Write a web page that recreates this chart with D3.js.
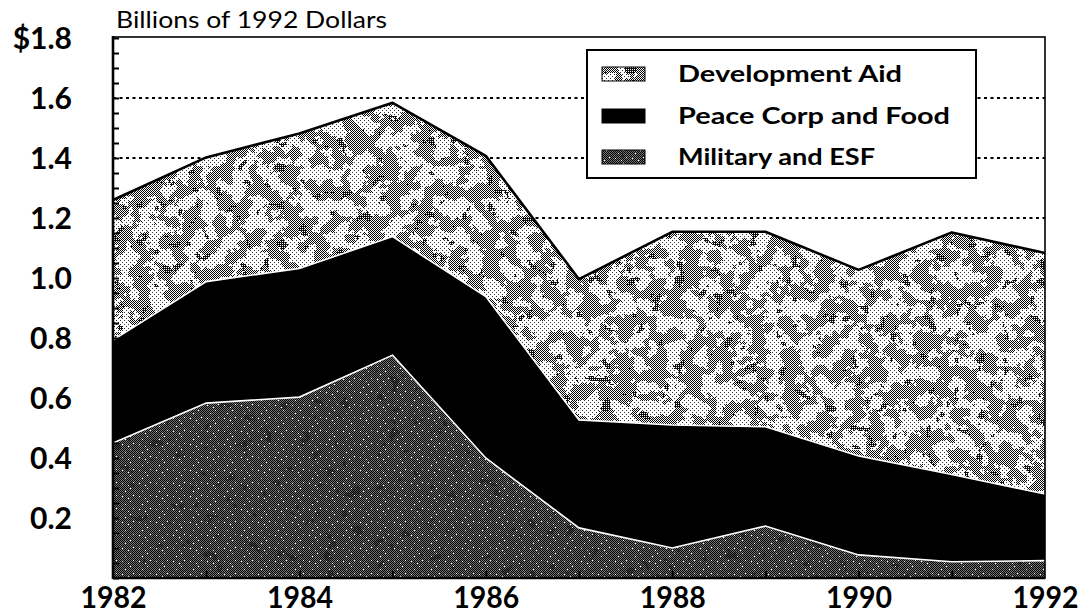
<!DOCTYPE html>
<html>
<head>
<meta charset="utf-8">
<script src="https://cdn.jsdelivr.net/npm/d3@7"></script>
<style>
  body { margin: 0; background: #fff; }
  svg { display: block; font-family: Lato, "Open Sans", sans-serif; }
</style>
</head>
<body>
<svg width="1091" height="615"></svg>
<script>
// values in billions of 1992 dollars
const years = [1982, 1983, 1984, 1985, 1986, 1987, 1988, 1989, 1990, 1991, 1992];
const militaryESF = [0.450, 0.583, 0.603, 0.743, 0.400, 0.167, 0.100, 0.173, 0.077, 0.054, 0.058];
const peaceCorpFood = [0.343, 0.405, 0.429, 0.395, 0.538, 0.360, 0.410, 0.331, 0.330, 0.291, 0.222];
const developmentAid = [0.467, 0.414, 0.450, 0.446, 0.469, 0.469, 0.644, 0.650, 0.620, 0.807, 0.803];

const seriesKeys = ["military", "peace", "dev"];
const legendKeys = ["dev", "peace", "military"];
const legendLabels = ["Development Aid", "Peace Corp and Food", "Military and ESF"];
const yLabelTicks = [0.2, 0.4, 0.6, 0.8, 1.0, 1.2, 1.4, 1.6, 1.8];
const gridTicks = [0.2, 0.4, 0.6, 0.8, 1.0, 1.2, 1.4, 1.6];
const xLabelTicks = [1982, 1984, 1986, 1988, 1990, 1992];

const table = years.map((yr, i) => ({
  year: yr,
  military: militaryESF[i],
  peace: peaceCorpFood[i],
  dev: developmentAid[i]
}));

const svg = d3.select("svg");
const W = 1091, H = 615;
const plotL = 113, plotR = 1045, plotT = 38, plotB = 578;

const x = d3.scaleLinear().domain([1982, 1992]).range([plotL, plotR]);
const y = d3.scaleLinear().domain([0, 1.8]).range([plotB, plotT]);

// ---- textures (stipple look of the scan) ----
const defs = svg.append("defs");

function noiseMask(id, freq, seed, table) {
  const f = defs.append("filter").attr("id", id + "F")
    .attr("x", 0).attr("y", 0).attr("width", 1).attr("height", 1)
    .attr("color-interpolation-filters", "sRGB");
  f.append("feTurbulence").attr("type", "fractalNoise")
    .attr("baseFrequency", freq).attr("numOctaves", 3).attr("seed", seed);
  f.append("feColorMatrix").attr("type", "matrix")
    .attr("values", "1 0 0 0 0  1 0 0 0 0  1 0 0 0 0  0 0 0 0 1");
  const ct = f.append("feComponentTransfer");
  ["feFuncR", "feFuncG", "feFuncB"].forEach(fn =>
    ct.append(fn).attr("type", "discrete").attr("tableValues", table));
  defs.append("mask").attr("id", id)
    .attr("maskUnits", "userSpaceOnUse")
    .attr("x", 0).attr("y", 0).attr("width", W).attr("height", H)
    .append("rect").attr("width", W).attr("height", H)
    .attr("fill", "#fff").attr("filter", `url(#${id}F)`);
}
noiseMask("maskA", 0.06, 7, "0 0 0 0 0 1 1 1 1 1");
noiseMask("maskB", 0.08, 21, "0 0 0 0 0 0 0 1 1 1");

function pixelPattern(id, w, h, bg, dots, color) {
  const p = defs.append("pattern").attr("id", id)
    .attr("patternUnits", "userSpaceOnUse")
    .attr("width", w).attr("height", h);
  if (bg) p.append("rect").attr("width", w).attr("height", h).attr("fill", bg);
  dots.forEach(d => p.append("rect")
    .attr("x", d[0]).attr("y", d[1]).attr("width", 1).attr("height", 1)
    .attr("fill", color));
}
// light checker for development aid
pixelPattern("checker", 2, 2, null, [[0, 0], [1, 1]], "#000");
// denser dots for the darker clumps
pixelPattern("dense", 2, 2, null, [[0, 0], [1, 1], [1, 0]], "#111");
// sparse dots across the whole light area
pixelPattern("sparse", 4, 4, "#fff", [[0, 0], [2, 2]], "#333");
// dark fine stipple for military
pixelPattern("darkBase", 2, 2, "#747474", [[0, 0], [1, 1]], "#000");
pixelPattern("specks", 17, 13, null, [[3, 2], [11, 7], [6, 10], [14, 1], [9, 4]], "#fff");

// ---- gridlines behind the areas ----
svg.append("g")
  .selectAll("line")
  .data(gridTicks)
  .join("line")
  .attr("x1", plotL).attr("x2", plotR)
  .attr("y1", d => y(d)).attr("y2", d => y(d))
  .attr("stroke", "#000")
  .attr("stroke-width", 2)
  .attr("stroke-dasharray", "3,3.5");

// ---- stacked areas ----
const stack = d3.stack().keys(seriesKeys);
const layers = stack(table);
const byKey = {};
layers.forEach(l => byKey[l.key] = l);

const area = d3.area()
  .x(d => x(d.data.year))
  .y0(d => y(d[0]))
  .y1(d => y(d[1]));
const topLine = d3.line()
  .x(d => x(d.data.year))
  .y(d => y(d[1]));

function fillTextured(g, key, shape) {
  const add = () => g.append(shape.tag).attr(shape.attr, shape.val);
  if (key === "peace") {
    add().attr("fill", "#000");
  } else if (key === "dev") {
    add().attr("fill", "url(#sparse)");
    add().attr("fill", "url(#checker)").attr("mask", "url(#maskA)");
    add().attr("fill", "url(#dense)").attr("mask", "url(#maskB)");
  } else {
    add().attr("fill", "url(#darkBase)");
    add().attr("fill", "#000").attr("opacity", 0.35).attr("mask", "url(#maskB)");
    add().attr("fill", "url(#specks)");
  }
}

const areaG = svg.append("g");
seriesKeys.forEach(k => {
  fillTextured(areaG, k, { tag: "path", attr: "d", val: area(byKey[k]) });
});

// white seams between layers, black outline on top
svg.append("path")
  .attr("d", topLine(byKey.military))
  .attr("fill", "none").attr("stroke", "#fff").attr("stroke-width", 1.6);
svg.append("path")
  .attr("d", topLine(byKey.peace))
  .attr("fill", "none").attr("stroke", "#fff").attr("stroke-width", 1.6);
svg.append("path")
  .attr("d", topLine(byKey.dev))
  .attr("fill", "none").attr("stroke", "#000").attr("stroke-width", 2.6)
  .attr("stroke-linejoin", "round");

// ---- frame ----
svg.append("rect")
  .attr("x", plotL).attr("y", plotT - 1)
  .attr("width", plotR - plotL).attr("height", plotB - plotT + 1)
  .attr("fill", "none").attr("stroke", "#000").attr("stroke-width", 1.6);
svg.append("line")
  .attr("x1", plotL).attr("x2", plotL).attr("y1", plotT - 2).attr("y2", plotB + 1)
  .attr("stroke", "#000").attr("stroke-width", 2.6);
svg.append("line")
  .attr("x1", plotL).attr("x2", plotR).attr("y1", plotB).attr("y2", plotB)
  .attr("stroke", "#000").attr("stroke-width", 2.6);

// inner ticks on the value axis
svg.append("g")
  .attr("transform", `translate(${plotL},0)`)
  .call(d3.axisRight(y).ticks(36).tickSize(6).tickFormat(""))
  .call(g => g.select(".domain").remove())
  .call(g => g.selectAll(".tick line").attr("stroke-width", 2));

// inner ticks on the year axis
svg.append("g")
  .attr("transform", `translate(0,${plotB})`)
  .call(d3.axisTop(x).tickValues(years.slice(1, -1)).tickSize(7).tickFormat(""))
  .call(g => g.select(".domain").remove())
  .call(g => g.selectAll(".tick line").attr("stroke-width", 2));

// value labels
svg.append("g")
  .attr("transform", `translate(${plotL},0)`)
  .call(d3.axisLeft(y).tickValues(yLabelTicks).tickSize(0).tickPadding(41)
    .tickFormat(d => (d === 1.8 ? "$" : "") + d3.format(".1f")(d)))
  .call(g => g.select(".domain").remove())
  .call(g => g.selectAll("text")
    .attr("font-family", "Lato, 'Open Sans', sans-serif")
    .attr("font-size", 30)
    .attr("font-weight", 700)
    .attr("fill", "#000")
    .attr("dy", "0.36em"));

// year labels
svg.append("g")
  .attr("transform", `translate(0,${plotB})`)
  .call(d3.axisBottom(x).tickValues(xLabelTicks).tickSize(0).tickPadding(8)
    .tickFormat(d3.format("d")))
  .call(g => g.select(".domain").remove())
  .call(g => g.selectAll("text")
    .attr("font-family", "Lato, 'Open Sans', sans-serif")
    .attr("font-size", 31)
    .attr("font-weight", 700)
    .attr("fill", "#000")
    .attr("dy", "0.72em")
    .attr("textLength", 66)
    .attr("lengthAdjust", "spacingAndGlyphs"));

// unit title
svg.append("text")
  .attr("x", 116).attr("y", 28)
  .attr("font-size", 23)
  .attr("textLength", 271)
  .attr("lengthAdjust", "spacingAndGlyphs")
  .text("Billions of 1992 Dollars");

// ---- legend ----
const legend = svg.append("g");
legend.append("rect")
  .attr("x", 587).attr("y", 50).attr("width", 389).attr("height", 128)
  .attr("fill", "#fff").attr("stroke", "#000").attr("stroke-width", 2);

const rowY = [74, 116, 157];
const textLen = [224, 272, 197];
legendKeys.forEach((k, i) => {
  const g = legend.append("g");
  fillTextured(g, k, { tag: "rect", attr: "x", val: 602 });
  g.selectAll("rect")
    .attr("y", rowY[i] - 7).attr("width", 43).attr("height", 14);
  g.append("rect")
    .attr("x", 602).attr("y", rowY[i] - 7).attr("width", 43).attr("height", 14)
    .attr("fill", "none").attr("stroke", "#000").attr("stroke-width", 1);
  g.append("text")
    .attr("x", 678).attr("y", rowY[i])
    .attr("dy", "0.35em")
    .attr("font-size", 23)
    .attr("font-weight", 700)
    .attr("textLength", textLen[i])
    .attr("lengthAdjust", "spacingAndGlyphs")
    .text(legendLabels[i]);
});
</script>
</body>
</html>
